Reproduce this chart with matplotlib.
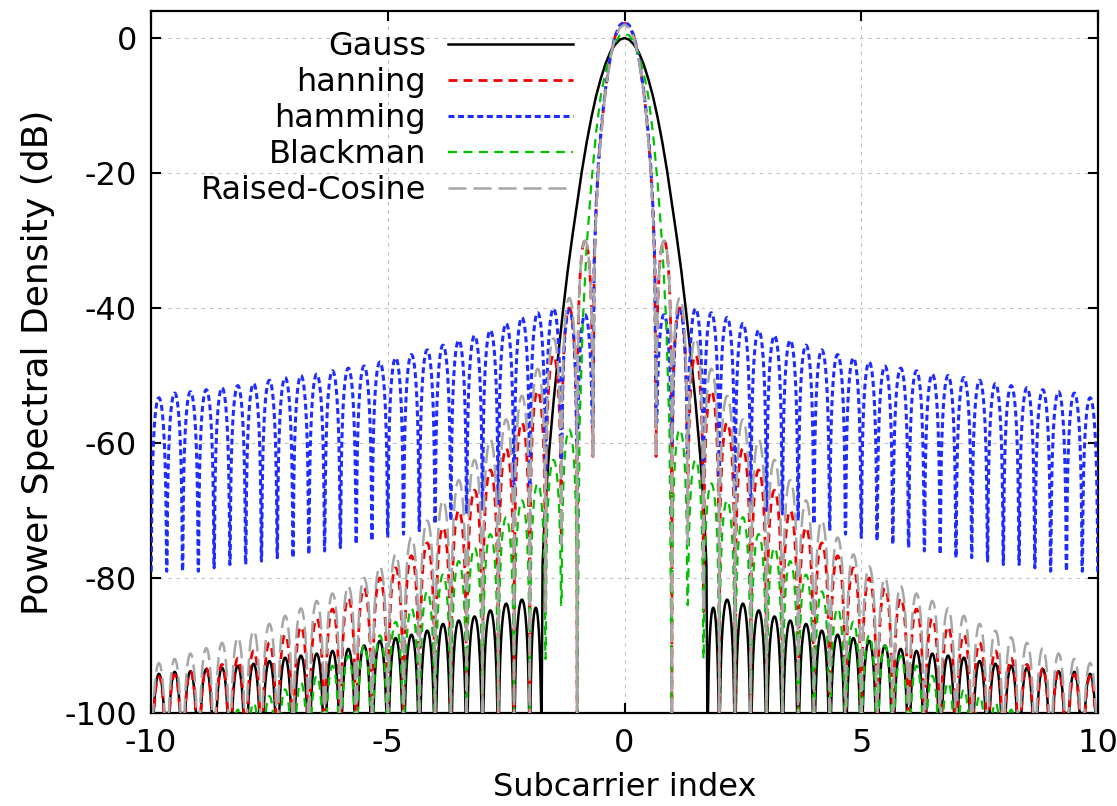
import numpy as np
import matplotlib
matplotlib.use("Agg")
import matplotlib.pyplot as plt

plt.rcParams['font.family'] = ['DejaVu Sans']
plt.rcParams['axes.unicode_minus'] = False
plt.rcParams['lines.scale_dashes'] = False

# ---------------- data (right half, x >= 0; mirrored) ----------------
series_names = ['Gauss', 'hanning', 'hamming', 'Blackman', 'Raised-Cosine']
lobe_spacing = 1.0 / 3.0      # side-lobe period in subcarrier units
x_max = 10.0

# main lobes (x, dB)
gauss_main_x = [0, 0.1, 0.2, 0.3, 0.4, 0.5, 0.6, 0.7, 0.8, 0.9, 1.0, 1.1, 1.2, 1.3,
                1.4, 1.5, 1.6, 1.68, 1.73, 1.75]
gauss_main_db = [0, -0.25, -1.0, -2.1, -3.8, -6.0, -8.6, -11.8, -15.5, -19.7, -24.5,
                 -29.3, -34.5, -40.5, -47, -54, -62, -70, -78, -100]

hann_main_x = [0, 0.1, 0.2, 0.3, 0.4, 0.45, 0.5, 0.55, 0.6, 0.64, 0.667]
hann_main_db = [2.2, 1.7, 0.2, -2.9, -7.6, -10.8, -14.5, -19, -25.5, -34, -62]

hamm_main_x = [0, 0.1, 0.2, 0.3, 0.4, 0.45, 0.5, 0.55, 0.6, 0.64, 0.667]
hamm_main_db = [2.4, 1.9, 0.3, -2.8, -7.5, -10.5, -14, -18.5, -25, -33, -57]

black_main_x = [0, 0.1, 0.2, 0.3, 0.4, 0.5, 0.6, 0.7, 0.8, 0.88, 0.95, 1.0]
black_main_db = [0.6, 0.4, -0.7, -2.5, -5, -8.5, -14, -21.5, -31, -42, -58, -100]

rc_main_x = [0, 0.1, 0.2, 0.3, 0.4, 0.45, 0.5, 0.55, 0.6, 0.64, 0.667]
rc_main_db = [2.0, 1.5, 0.0, -3.0, -7.8, -11, -14.8, -19.3, -26, -34.5, -62]

# first null after the main lobe
first_null = [1.75, 2 / 3, 2 / 3, 1.0, 2 / 3]

# side-lobe peak levels (dB), one per lobe, going outwards
gauss_peaks = [-84.4, -83.2, -83.8, -84.8, -85.7, -86.3, -86.8, -87.8, -88.4, -88.9,
               -89.3, -90.0, -90.5, -90.8, -91.2, -91.5, -91.8, -92.3, -92.7, -93.0,
               -93.3, -93.5, -93.8, -93.9, -94.2]
hann_peaks = [-30, -40, -47, -52.3, -57, -60.8, -64, -67, -70, -72.5,
              -74.8, -76.7, -78.5, -80, -81.5, -83, -84.6, -86, -87.2, -88.4,
              -89.6, -90.8, -91.9, -92.8, -93.4, -93.9, -94.3, -94.6]
hamm_peaks = [-41, -40.3, -40.1, -40.7, -41.4, -42.3, -43.3, -44.1, -44.8, -45.5,
              -46.2, -46.9, -47.4, -48.0, -48.6, -48.9, -49.3, -49.8, -50.0, -50.3,
              -50.7, -51.2, -51.5, -51.8, -52.1, -52.4, -52.6, -53.3]
black_peaks = [-58, -62.5, -66, -68.5, -71, -73.5, -75.5, -77.5, -79.5, -82,
               -84.5, -86.5, -88.5, -90, -91.5, -93, -94.5, -95.5, -96.5, -97.5,
               -98.5, -99.5, -100.5, -101.5, -102.5, -103.5, -104.5]
rc_peaks = [-30, -38.5, -44.5, -49, -53, -56.5, -59.5, -62.5, -65.5, -68.5,
            -71.5, -74, -76.5, -78.3, -80, -81.2, -82.3, -83.4, -84.5, -85.6,
            -86.8, -87.8, -88.8, -89.6, -90.4, -91.2, -92, -92.6]

# depth reached at each null (first entry = end of main lobe)
gauss_nulls = [-100] * 26
hann_nulls = [-62, -101, -75, -85] + [-101] * 25
hamm_nulls = [-57, -60, -62.5, -65, -66.5, -68, -69, -70, -70.5, -71.5,
              -72, -73, -73.5, -74, -74.5, -75, -75.5, -76, -76.5, -77,
              -77, -77.5, -78, -78, -78.5, -79, -79, -79, -79]
black_nulls = [-101, -84, -92] + [-101] * 25
rc_nulls = [-62, -101, -75, -85] + [-101] * 25

main_x = [gauss_main_x, hann_main_x, hamm_main_x, black_main_x, rc_main_x]
main_db = [gauss_main_db, hann_main_db, hamm_main_db, black_main_db, rc_main_db]
peaks = [gauss_peaks, hann_peaks, hamm_peaks, black_peaks, rc_peaks]
null_depths = [gauss_nulls, hann_nulls, hamm_nulls, black_nulls, rc_nulls]

# ---------------- styles ----------------
colors = ['black', '#f20000', '#1e2cff', '#00c000', '#a6a6a6']
widths = [1.8, 2.0, 2.2, 1.6, 1.8]
dashes = [None, (6.5, 4.3), (4.3, 2.6), (6.5, 4.6), (13, 5)]


def lobe_edges(start):
    k0 = int(np.floor(start / lobe_spacing + 1e-6)) + 1
    edges = [start]
    k = k0
    while k * lobe_spacing <= x_max + 1e-9:
        edges.append(k * lobe_spacing)
        k += 1
    return edges


def build_half(mx, mdb, start, pk, nd):
    edges = lobe_edges(start)
    xs = list(mx[:-1]) + [start]
    ys = list(mdb[:-1]) + [nd[0]]
    t = np.linspace(0.0, 1.0, 61)
    s = np.abs(np.sin(np.pi * t))
    shape = 20 * np.log10(np.maximum(s, 1e-9))
    for i in range(len(edges) - 1):
        a, b = edges[i], edges[i + 1]
        p = pk[i]
        fl = np.where(t < 0.5, nd[i], nd[i + 1])
        y = np.maximum(p + shape, fl)
        xs.extend((a + (b - a) * t)[1:])
        ys.extend(y[1:])
    return np.array(xs), np.array(ys)


fig = plt.figure(figsize=(11.17, 8.06), dpi=100)
W, H = 1117, 806
ax = fig.add_axes([151 / W, 1 - 713 / H, (1098 - 151) / W, (713 - 11) / H])

for i, name in enumerate(series_names):
    hx, hy = build_half(main_x[i], main_db[i], first_null[i], peaks[i], null_depths[i])
    x = np.concatenate([-hx[::-1], hx[1:]])
    y = np.concatenate([hy[::-1], hy[1:]])
    kw = dict(color=colors[i], lw=widths[i], label=name, zorder=2 + i)
    if dashes[i] is not None:
        kw['dashes'] = dashes[i]
    ax.plot(x, y, **kw)

ax.set_xlim(-10, 10)
ax.set_ylim(-100, 4)
ax.set_xticks([-10, -5, 0, 5, 10])
ax.set_yticks([-100, -80, -60, -40, -20, 0])
ax.grid(True, color='#c0c0c0', linestyle=(0, (2.5, 3.5)), linewidth=0.8)
ax.set_axisbelow(True)
for sp in ax.spines.values():
    sp.set_linewidth(1.6)
ax.tick_params(direction='in', length=7, width=1.5, top=True, right=True,
               labelsize=23)
ax.tick_params(axis='y', pad=10)
ax.tick_params(axis='x', pad=11)
ax.set_xlabel('Subcarrier index', fontsize=23, labelpad=9)
ax.set_ylabel('Power Spectral Density (dB)', fontsize=26, labelpad=7)

ax.legend(loc='upper right', bbox_to_anchor=(573 / W, 1 - 31 / H),
          bbox_transform=fig.transFigure, frameon=False, markerfirst=False,
          handlelength=3.9, handletextpad=0.7, labelspacing=0.16,
          borderpad=0, borderaxespad=0, fontsize=23)

fig.savefig('out.png', dpi=100)
